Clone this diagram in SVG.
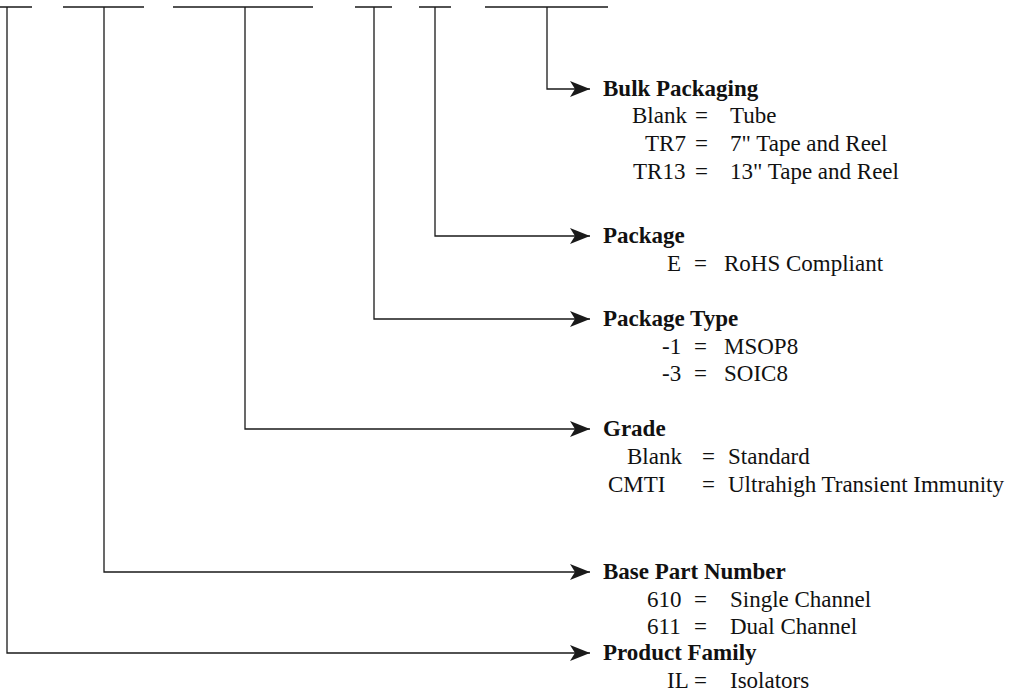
<svg xmlns="http://www.w3.org/2000/svg" width="1015" height="692" viewBox="0 0 1015 692">
<defs>
<style>
.ln{fill:none;stroke:#1a1a1a;stroke-width:1.3}
.t{font-family:"Liberation Serif","Times New Roman",serif;font-size:23px;fill:#111}
.b{font-weight:bold}
</style>
<marker id="ah" markerUnits="userSpaceOnUse" markerWidth="22" markerHeight="18" refX="20" refY="8" orient="auto" viewBox="0 0 22 18">
<path d="M0,0 L20,8 L0,16 L5,8 Z" fill="#1a1a1a"/>
</marker>
</defs>
<rect width="1015" height="692" fill="#fff"/>
<g id="connectors">
<path class="ln" d="M0 7H32M63 7H144M173 7H313M355 7H392M419 7H451M485 7H608"/>
<path class="ln" d="M547 7V89H590" marker-end="url(#ah)"/>
<path class="ln" d="M435 7V236H590" marker-end="url(#ah)"/>
<path class="ln" d="M374 7V319H590" marker-end="url(#ah)"/>
<path class="ln" d="M245 7V429H590" marker-end="url(#ah)"/>
<path class="ln" d="M104 7V572H590" marker-end="url(#ah)"/>
<path class="ln" d="M7 7V653H590" marker-end="url(#ah)"/>
</g>
<g id="bulk">
<text class="t b" x="603" y="96">Bulk Packaging</text>
<text class="t" x="632" y="123">Blank</text><text class="t" x="695" y="123">=</text><text class="t" x="730" y="123">Tube</text>
<text class="t" x="645" y="151">TR7</text><text class="t" x="695" y="151">=</text><text class="t" x="730" y="151">7" Tape and Reel</text>
<text class="t" x="633" y="179">TR13</text><text class="t" x="695" y="179">=</text><text class="t" x="730" y="179">13" Tape and Reel</text>
</g>
<g id="package">
<text class="t b" x="603" y="243">Package</text>
<text class="t" x="667" y="271">E</text><text class="t" x="694" y="271">=</text><text class="t" x="724" y="271">RoHS Compliant</text>
</g>
<g id="package-type">
<text class="t b" x="603" y="326">Package Type</text>
<text class="t" x="662" y="354">-1</text><text class="t" x="694" y="354">=</text><text class="t" x="724" y="354">MSOP8</text>
<text class="t" x="662" y="381">-3</text><text class="t" x="694" y="381">=</text><text class="t" x="724" y="381">SOIC8</text>
</g>
<g id="grade">
<text class="t b" x="603" y="436">Grade</text>
<text class="t" x="627" y="464">Blank</text><text class="t" x="702" y="464">=</text><text class="t" x="728" y="464">Standard</text>
<text class="t" x="608" y="492">CMTI</text><text class="t" x="702" y="492">=</text><text class="t" x="728" y="492">Ultrahigh Transient Immunity</text>
</g>
<g id="base-part">
<text class="t b" x="603" y="579">Base Part Number</text>
<text class="t" x="647" y="607">610</text><text class="t" x="694" y="607">=</text><text class="t" x="730" y="607">Single Channel</text>
<text class="t" x="647" y="634">611</text><text class="t" x="694" y="634">=</text><text class="t" x="730" y="634">Dual Channel</text>
</g>
<g id="product-family">
<text class="t b" x="603" y="660">Product Family</text>
<text class="t" x="667" y="688">IL</text><text class="t" x="694" y="688">=</text><text class="t" x="730" y="688">Isolators</text>
</g>
</svg>
